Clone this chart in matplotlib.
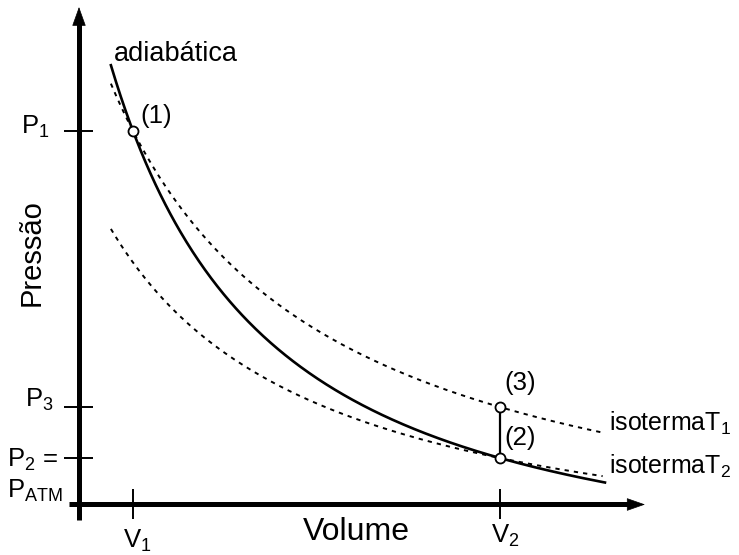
import numpy as np
import matplotlib
matplotlib.use("Agg")
import matplotlib.pyplot as plt

plt.rcParams['font.family'] = ['Liberation Sans', 'DejaVu Sans']
plt.rcParams['mathtext.fontset'] = 'custom'
plt.rcParams['mathtext.rm'] = 'Liberation Sans'
plt.rcParams['mathtext.it'] = 'Liberation Sans:italic'
plt.rcParams['mathtext.default'] = 'regular'

# ---- data (schematic state values) ----
V1 = 1.0          # volume at state (1)
V2 = 2.578        # volume at states (2) and (3)
P1 = 1.0          # pressure at state (1)
P3 = 0.388        # pressure at state (3) (isotherm T1)
P2 = 0.2748       # pressure at state (2) = P_atm (isotherm T2)
curve_v_start = 0.905
curve_v_end = 3.03

state_labels = ["(1)", "(3)", "(2)"]
p_tick_labels = ["P$_1$", "P$_3$", "P$_2$ =", "P$_{ATM}$"]
v_tick_labels = ["V$_1$", "V$_2$"]
curve_labels = ["adiabática", "isotermaT$_1$", "isotermaT$_2$"]
axis_labels = ["Volume", "Pressão"]

gamma = np.log(P1 / P2) / np.log(V2 / V1)

# ---- figure ----
W, H = 739, 555
fig = plt.figure(figsize=(W / 100, H / 100), dpi=100)
ax = fig.add_axes([0, 0, 1, 1])
ax.set_axis_off()

# pixel <-> data mapping for schematic layout
XL = (0.428, 3.6065)
YL = (0.0597, 1.2905)
ax.set_xlim(*XL)
ax.set_ylim(*YL)

def vx(px):
    return XL[0] + px / W * (XL[1] - XL[0])

def py(pyx):
    return YL[1] - pyx / H * (YL[1] - YL[0])

# axes with arrows
ax_v = vx(79)
ax_p = py(504.5)
ax.plot([ax_v, ax_v], [py(520), py(22)], color='k', lw=3.6, solid_capstyle='butt', zorder=3)
ax.plot([vx(69), vx(630)], [ax_p, ax_p], color='k', lw=3.6, solid_capstyle='butt', zorder=3)
ax.annotate('', xy=(ax_v, py(7)), xytext=(ax_v, py(30)),
            arrowprops=dict(arrowstyle='-|>,head_length=1.25,head_width=0.45',
                            mutation_scale=10, lw=0.5, color='k',
                            shrinkA=0, shrinkB=0), zorder=4)
ax.annotate('', xy=(vx(645), ax_p), xytext=(vx(620), ax_p),
            arrowprops=dict(arrowstyle='-|>,head_length=1.2,head_width=0.42',
                            mutation_scale=10, lw=0.5, color='k',
                            shrinkA=0, shrinkB=0), zorder=4)

# ticks
for p in (P1, P3, P2):
    ax.plot([vx(64), vx(93)], [p, p], color='k', lw=1.4, solid_capstyle='butt', zorder=3)
for v in (V1, V2):
    ax.plot([v, v], [py(489), py(519)], color='k', lw=1.4, solid_capstyle='butt', zorder=3)

# curves
v = np.linspace(curve_v_start, curve_v_end, 400)
ax.plot(v, P1 * (V1 / v) ** gamma, color='k', lw=1.9, zorder=5)
vt = np.linspace(curve_v_start, 3.02, 400)
dot = (0, (2.2, 2.6))
ax.plot(vt, P1 * V1 / vt, color='k', lw=1.4, ls=dot, zorder=4)
ax.plot(vt, P2 * V2 / vt, color='k', lw=1.4, ls=dot, zorder=4)

# isochoric step (2)-(3)
ax.plot([V2, V2], [P2, P3], color='k', lw=1.6, zorder=5)

# state points
ax.plot([V1, V2, V2], [P1, P3, P2], ls='none', marker='o', ms=7.2,
        mfc='white', mec='k', mew=1.3, zorder=6)

# texts
fs = 18.5
ax.text(vx(114), py(61), curve_labels[0], fontsize=19.5, ha='left', va='baseline')
ax.text(vx(609), py(431), curve_labels[1], fontsize=18, ha='left', va='baseline')
ax.text(vx(609), py(474), curve_labels[2], fontsize=18, ha='left', va='baseline')

ax.text(vx(140), py(116), state_labels[0], fontsize=fs, ha='left', va='center')
ax.text(vx(504), py(383), state_labels[1], fontsize=fs, ha='left', va='center')
ax.text(vx(504), py(438), state_labels[2], fontsize=fs, ha='left', va='center')

ax.text(vx(21), py(134), p_tick_labels[0], fontsize=fs, ha='left', va='baseline')
ax.text(vx(25), py(407), p_tick_labels[1], fontsize=fs, ha='left', va='baseline')
ax.text(vx(7), py(467), p_tick_labels[2], fontsize=fs, ha='left', va='baseline')
ax.text(vx(7), py(498), p_tick_labels[3], fontsize=fs, ha='left', va='baseline')

ax.text(vx(123), py(548), v_tick_labels[0], fontsize=fs, ha='left', va='baseline')
ax.text(vx(491), py(543), v_tick_labels[1], fontsize=fs, ha='left', va='baseline')

ax.text(vx(303), py(540), axis_labels[0], fontsize=23, ha='left', va='baseline')
ax.text(vx(32), py(253), axis_labels[1], fontsize=21, rotation=90, ha='center', va='center')

fig.savefig("out.png", dpi=100)
